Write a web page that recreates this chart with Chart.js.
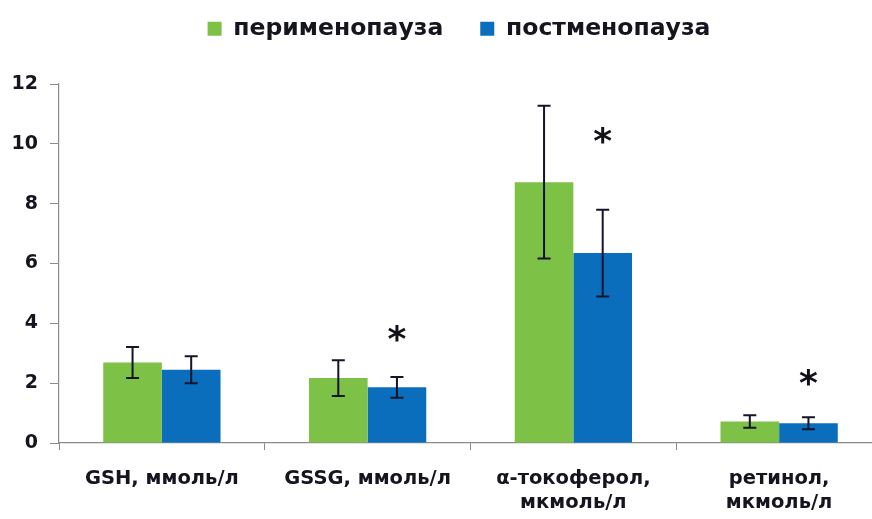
<!DOCTYPE html>
<html>
<head>
<meta charset="utf-8">
<script src="https://cdn.jsdelivr.net/npm/chart.js@4"></script>
<style>
  html, body { margin: 0; padding: 0; background: #ffffff; overflow: hidden; }
  #wrap { position: relative; width: 883px; height: 519px; }
</style>
</head>
<body>
<div id="wrap"><canvas id="c"></canvas></div>
<script>
const categories = [
  ['GSH, ммоль/л'],
  ['GSSG, ммоль/л'],
  ['α-токоферол,', 'мкмоль/л'],
  ['ретинол,', 'мкмоль/л']
];
const seriesNames = ['перименопауза', 'постменопауза'];
const periValues = [2.69, 2.17, 8.72, 0.72];
const periErrors = [0.52, 0.60, 2.55, 0.21];
const postValues = [2.45, 1.86, 6.35, 0.66];
const postErrors = [0.45, 0.35, 1.45, 0.20];
const starValues = [null, 3.62, 10.25, 2.15];
const yTicks = [0, 2, 4, 6, 8, 10, 12];

const FONT = 'DejaVu Sans';
const TEXT = '#15151f';
const AXIS = '#8a8a8a';

const errorBars = {
  id: 'errorBars',
  afterDatasetsDraw(chart) {
    const ctx = chart.ctx;
    const y = chart.scales.y;
    const errs = [periErrors, postErrors];
    ctx.save();
    ctx.strokeStyle = '#14142a';
    ctx.lineWidth = 2;
    chart.data.datasets.forEach((ds, i) => {
      const meta = chart.getDatasetMeta(i);
      meta.data.forEach((bar, j) => {
        const v = ds.data[j], e = errs[i][j];
        const yt = y.getPixelForValue(v + e);
        const yb = y.getPixelForValue(v - e);
        const x = bar.x, cw = 6.5;
        ctx.beginPath();
        ctx.moveTo(x, yt); ctx.lineTo(x, yb);
        ctx.moveTo(x - cw, yt); ctx.lineTo(x + cw, yt);
        ctx.moveTo(x - cw, yb); ctx.lineTo(x + cw, yb);
        ctx.stroke();
      });
    });
    // significance stars above the postmenopause bars
    const meta = chart.getDatasetMeta(1);
    ctx.fillStyle = '#111118';
    ctx.font = 'bold 36px "' + FONT + '"';
    ctx.textAlign = 'center';
    ctx.textBaseline = 'middle';
    starValues.forEach((s, j) => {
      if (s == null) return;
      const x = meta.data[j].x;
      const yy = y.getPixelForValue(s);
      ctx.fillText('*', x, yy + 7);
    });
    ctx.restore();
  }
};

const legendLayout = {
  id: 'legendLayout',
  beforeInit(chart) {
    const fit = chart.legend.fit;
    chart.legend.fit = function () {
      fit.call(this);
      this.height = 104;
    };
  },
  afterLayout(chart) {
    // centre the legend over the same span as the reference
    chart.legend.left += 36;
  }
};

new Chart(document.getElementById('c'), {
  type: 'bar',
  data: {
    labels: categories,
    datasets: [
      { label: seriesNames[0], data: periValues, backgroundColor: '#7dc146', borderWidth: 0,
        barPercentage: 1.0, categoryPercentage: 0.57 },
      { label: seriesNames[1], data: postValues, backgroundColor: '#0b6ebd', borderWidth: 0,
        barPercentage: 1.0, categoryPercentage: 0.57 }
    ]
  },
  options: {
    responsive: true,
    maintainAspectRatio: false,
    animation: false,
    layout: { padding: { top: -20, left: 0, right: 1, bottom: 0 } },
    plugins: {
      legend: {
        position: 'top',
        labels: {
          boxWidth: 14, boxHeight: 14, padding: 37,
          color: TEXT,
          font: { family: FONT, size: 23.5, weight: 'bold' }
        }
      },
      tooltip: { enabled: false }
    },
    scales: {
      x: {
        offset: true,
        grid: { offset: true, drawOnChartArea: false, drawTicks: true, tickLength: 7, color: AXIS },
        border: { color: AXIS, width: 1.2 },
        ticks: {
          color: TEXT, maxRotation: 0, autoSkip: false, padding: 17,
          font: { family: FONT, size: 19.5, weight: 'bold', lineHeight: 1.24 }
        },
        afterFit(scale) { scale.height = 76; }
      },
      y: {
        min: 0, max: 12,
        afterBuildTicks(scale) { scale.ticks = yTicks.map(v => ({ value: v })); },
        grid: { drawOnChartArea: false, drawTicks: true, tickLength: 9, color: AXIS },
        border: { color: AXIS, width: 1.2 },
        ticks: {
          color: TEXT, padding: 12,
          font: { family: FONT, size: 19, weight: 'bold' }
        },
        afterFit(scale) { scale.width = 59; }
      }
    }
  },
  plugins: [errorBars, legendLayout]
});
</script>
</body>
</html>
